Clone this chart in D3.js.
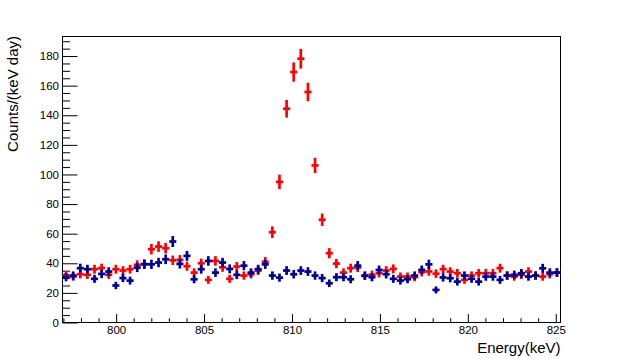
<!DOCTYPE html>
<html>
<head>
<meta charset="utf-8">
<script src="https://cdn.jsdelivr.net/npm/d3@7"></script>
<style>
  html, body { margin: 0; padding: 0; background: #fff; }
  svg { display: block; font-family: "Liberation Sans", Arial, sans-serif; }
</style>
</head>
<body>
<svg id="chart" width="623" height="359"></svg>
<script>
// Histogram range (keV) and number of bins
const xRange = [796.95, 825.27];
const nBins = 70;
const yMax = 193.2;

// Series values, counts/(keV day), one per bin
const redValues = [
  32, 31, 32.6, 32.2, 36, 36.7, 32.2, 36, 35.1, 36,
  38.9, 39.5, 49.5, 51.3, 50.2, 42, 42.3, 38, 33.7, 40,
  28.8, 41.6, 37.3, 29.5, 37.8, 31.7, 32.6, 35.1, 41, 61,
  95, 144.4, 169.2, 178.2, 155.7, 106.1, 69.4, 46.8, 39.8, 33.7,
  36.7, 37.1, 31.5, 32.2, 33.3, 35.1, 36.2, 31, 31, 30.6,
  34, 34.5, 33, 36, 34.4, 33.3, 28.8, 31.7, 33.3, 33.3,
  33.3, 36.7, 31.7, 31, 32.2, 34.4, 31.7, 31, 32.6, 33.7
];
const blueValues = [
  30.6, 31.7, 36.7, 36, 29.5, 32.8, 34.4, 25, 30, 28.3,
  37.1, 39.3, 39.3, 40.5, 42.7, 54.7, 39.6, 45, 29.2, 36,
  41.6, 33.7, 40.5, 36.2, 32.2, 38.4, 33.7, 36, 39.3, 31.7,
  30.3, 35.1, 32.6, 35.1, 34.4, 31.7, 30, 26.5, 30.6, 30.6,
  29.2, 38.4, 31.7, 30.6, 35.5, 32.6, 29.5, 28.3, 29.2, 31.7,
  35.5, 39.3, 22, 30.4, 29.9, 27.6, 31.7, 29.5, 27.6, 31,
  31, 28.8, 31.7, 32.2, 33.3, 31, 31.7, 36.6, 33.7, 33.7
];

// Tick labels
const xTickValues = [800, 805, 810, 815, 820, 825];
const yTickValues = [0, 20, 40, 60, 80, 100, 120, 140, 160, 180];
const xTitle = "Energy(keV)";
const yTitle = "Counts/(keV day)";

const svg = d3.select("#chart");
const pLeft = 62.5, pRight = 560.5, pTop = 36.5, pBottom = 322.5;

const x = d3.scaleLinear().domain(xRange).range([pLeft, pRight]);
const y = d3.scaleLinear().domain([0, yMax]).range([pBottom, pTop]);

const binW = (xRange[1] - xRange[0]) / nBins;
const centers = d3.range(nBins).map(i => xRange[0] + (i + 0.5) * binW);

// Frame
svg.append("rect")
  .attr("x", pLeft).attr("y", pTop)
  .attr("width", pRight - pLeft).attr("height", pBottom - pTop)
  .attr("fill", "none").attr("stroke", "#000").attr("stroke-width", 1);

// X axis ticks (inside, pointing up)
const xMajorLen = 8.5, xMinorLen = 4.3;
const xAxisMajor = d3.axisBottom(x).tickValues(xTickValues)
  .tickSize(-xMajorLen).tickPadding(xMajorLen + 4).tickFormat(d3.format("d"));
const xMinorTicks = d3.range(797, 826, 1).filter(v => v % 5 !== 0 && v <= xRange[1]);
const xAxisMinor = d3.axisBottom(x).tickValues(xMinorTicks).tickSize(-xMinorLen).tickFormat("");

const gxMin = svg.append("g").attr("transform", `translate(0,${pBottom})`).call(xAxisMinor);
const gx = svg.append("g").attr("transform", `translate(0,${pBottom})`).call(xAxisMajor);
[gx, gxMin].forEach(g => {
  g.select(".domain").remove();
  g.selectAll("line").attr("stroke", "#000");
});
gx.selectAll("text")
  .attr("font-size", 11.5).attr("fill", "#000")
  .attr("font-family", "Liberation Sans, Arial, sans-serif")
  .attr("dy", null).attr("y", 11.5);

// Y axis ticks (inside, pointing right)
const yMajorLen = 15, yMinorLen = 7.5;
const yAxisMajor = d3.axisLeft(y).tickValues(yTickValues)
  .tickSize(-yMajorLen).tickPadding(4).tickFormat(d3.format("d"));
const yMinorTicks = d3.range(0, yMax, 5).filter(v => v % 20 !== 0);
const yAxisMinor = d3.axisLeft(y).tickValues(yMinorTicks).tickSize(-yMinorLen).tickFormat("");

const gyMin = svg.append("g").attr("transform", `translate(${pLeft},0)`).call(yAxisMinor);
const gy = svg.append("g").attr("transform", `translate(${pLeft},0)`).call(yAxisMajor);
[gy, gyMin].forEach(g => {
  g.select(".domain").remove();
  g.selectAll("line").attr("stroke", "#000");
});
gy.selectAll("text")
  .attr("font-size", 11.5).attr("fill", "#000")
  .attr("font-family", "Liberation Sans, Arial, sans-serif")
  .attr("x", -3.5);

// Titles
svg.append("text")
  .attr("x", pRight).attr("y", 353)
  .attr("text-anchor", "end")
  .attr("font-size", 15)
  .attr("fill", "#000")
  .text(xTitle);

svg.append("text")
  .attr("transform", `translate(18,${pTop - 0.5}) rotate(-90)`)
  .attr("text-anchor", "end")
  .attr("font-size", 15)
  .attr("fill", "#000")
  .text(yTitle);

// Error-bar crosses
const errFactor = 0.5; // Poisson-like error scaling
function drawSeries(values, color) {
  const g = svg.append("g")
    .attr("stroke", color)
    .attr("stroke-width", 2.7)
    .attr("fill", "none");
  const pts = values.map((v, i) => ({ c: centers[i], v, e: errFactor * Math.sqrt(v) }));
  g.selectAll("line.h").data(pts).join("line")
    .attr("class", "h")
    .attr("x1", d => x(d.c - binW / 2)).attr("x2", d => x(d.c + binW / 2))
    .attr("y1", d => y(d.v)).attr("y2", d => y(d.v));
  g.selectAll("line.v").data(pts).join("line")
    .attr("class", "v")
    .attr("x1", d => x(d.c)).attr("x2", d => x(d.c))
    .attr("y1", d => y(d.v - d.e)).attr("y2", d => y(d.v + d.e));
}
drawSeries(redValues, "#ff0000");
drawSeries(blueValues, "#000099");
</script>
</body>
</html>
